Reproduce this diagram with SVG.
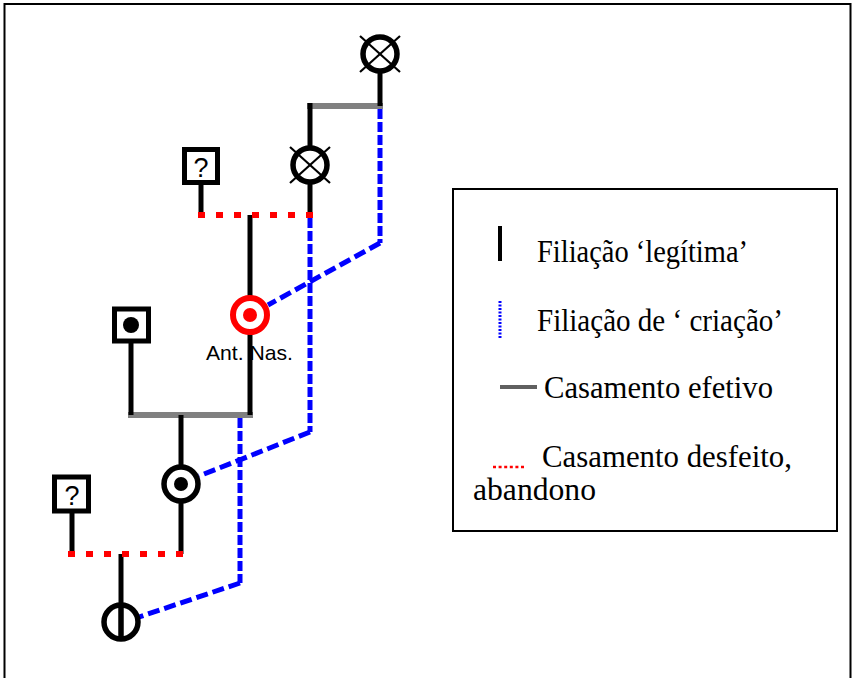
<svg xmlns="http://www.w3.org/2000/svg" width="852" height="678" viewBox="0 0 852 678">
<style>
.blk{stroke:#000;stroke-width:5;fill:none}
.gry{stroke:#808080;stroke-width:6;fill:none}
.red{stroke:#ff0000;stroke-width:6;stroke-dasharray:7 11;fill:none}
.bv{stroke:#0000ff;stroke-width:5;stroke-dasharray:10 3;fill:none}
.bd{stroke:#0000ff;stroke-width:5;stroke-dasharray:12 5;fill:none}
.ring{stroke:#000;stroke-width:5.5;fill:#fff}
.xl{stroke:#000;stroke-width:2.2}
.box{stroke:#000;stroke-width:5;fill:#fff}
.q{font-family:"Liberation Sans",Arial,sans-serif;font-size:27px;text-anchor:middle;fill:#000}
.lg{font-family:"Liberation Serif","Times New Roman",serif;font-size:30.5px;fill:#000}
</style>
<rect width="852" height="678" fill="#fff"/>
<path d="M4.5 680 V4 H850.5 V680" stroke="#000" stroke-width="2" fill="none"/>

<g id="connectors">
  <line class="gry" x1="307" y1="106" x2="383" y2="106"/>
  <line class="gry" x1="128" y1="415" x2="253" y2="415"/>
  <line class="blk" x1="380" y1="71" x2="380" y2="106"/>
  <line class="blk" x1="310" y1="103" x2="310" y2="148"/>
  <line class="blk" x1="310" y1="182" x2="310" y2="215"/>
  <line class="blk" x1="201" y1="184" x2="201" y2="215"/>
  <line class="blk" x1="250" y1="215" x2="250" y2="298"/>
  <line class="blk" x1="250" y1="332" x2="250" y2="415"/>
  <line class="blk" x1="131" y1="343" x2="131" y2="415"/>
  <line class="blk" x1="181" y1="415" x2="181" y2="467"/>
  <line class="blk" x1="181" y1="501" x2="181" y2="554"/>
  <line class="blk" x1="72" y1="513" x2="72" y2="554"/>
  <line class="blk" x1="121" y1="554" x2="121" y2="640"/>
  <line class="red" x1="198" y1="215" x2="313" y2="215"/>
  <line class="red" x1="68" y1="554" x2="184" y2="554"/>
  <line class="bv" x1="380" y1="109" x2="380" y2="243"/>
  <line class="bd" x1="380" y1="243" x2="268" y2="305"/>
  <line class="bv" x1="310" y1="218" x2="310" y2="432"/>
  <line class="bd" x1="310" y1="432" x2="199" y2="476"/>
  <line class="bv" x1="240" y1="418" x2="240" y2="583"/>
  <line class="bd" x1="240" y1="583" x2="139" y2="617"/>
</g>

<g id="n1">
  <circle class="ring" cx="380" cy="54" r="17"/>
  <line class="xl" x1="360" y1="36" x2="400" y2="72"/>
  <line class="xl" x1="400" y1="36" x2="360" y2="72"/>
</g>
<g id="n2">
  <circle class="ring" cx="310" cy="165" r="17"/>
  <line class="xl" x1="290" y1="147" x2="330" y2="183"/>
  <line class="xl" x1="330" y1="147" x2="290" y2="183"/>
</g>
<g id="n3">
  <rect class="box" x="184.5" y="149.5" width="33" height="33"/>
  <text class="q" x="201" y="177">?</text>
</g>
<g id="n4">
  <circle cx="250" cy="315" r="17" fill="#fff" stroke="#ff0000" stroke-width="6"/>
  <circle cx="250" cy="315" r="7" fill="#ff0000"/>
</g>
<g id="n5">
  <rect class="box" x="114.5" y="309" width="34" height="32"/>
  <circle cx="131" cy="325" r="8" fill="#000"/>
</g>
<g id="n6">
  <circle class="ring" cx="181" cy="484" r="17"/>
  <circle cx="181" cy="484" r="7" fill="#000"/>
</g>
<g id="n7">
  <rect class="box" x="54.5" y="477" width="34" height="34"/>
  <text class="q" x="72" y="505">?</text>
</g>
<g id="n8">
  <circle cx="121" cy="622" r="17" fill="none" stroke="#000" stroke-width="5.5"/>
  <line class="blk" x1="121" y1="604" x2="121" y2="640"/>
</g>

<text x="206" y="360" font-family="Liberation Sans,Arial,sans-serif" font-size="21" textLength="87" lengthAdjust="spacingAndGlyphs" fill="#000">Ant. Nas.</text>

<g id="legend">
  <rect x="453" y="189" width="384" height="342" fill="none" stroke="#000" stroke-width="2"/>
  <line x1="500" y1="226" x2="500" y2="261" stroke="#000" stroke-width="4"/>
  <line x1="500" y1="301" x2="500" y2="338" stroke="#0000ff" stroke-width="3" stroke-dasharray="2 1.5"/>
  <line x1="500" y1="387" x2="537" y2="387" stroke="#606060" stroke-width="4"/>
  <line x1="493" y1="467" x2="526" y2="467" stroke="#ff0000" stroke-width="2.5" stroke-dasharray="3 2.6"/>
  <text class="lg" x="537" y="262" textLength="211" lengthAdjust="spacingAndGlyphs">Filiação ‘legítima’</text>
  <text class="lg" x="537" y="331" textLength="246" lengthAdjust="spacingAndGlyphs">Filiação de ‘ criação’</text>
  <text class="lg" x="544" y="398" textLength="229" lengthAdjust="spacingAndGlyphs">Casamento efetivo</text>
  <text class="lg" x="542" y="467" textLength="250" lengthAdjust="spacingAndGlyphs">Casamento desfeito,</text>
  <text class="lg" x="473" y="500" textLength="123" lengthAdjust="spacingAndGlyphs">abandono</text>
</g>
</svg>
